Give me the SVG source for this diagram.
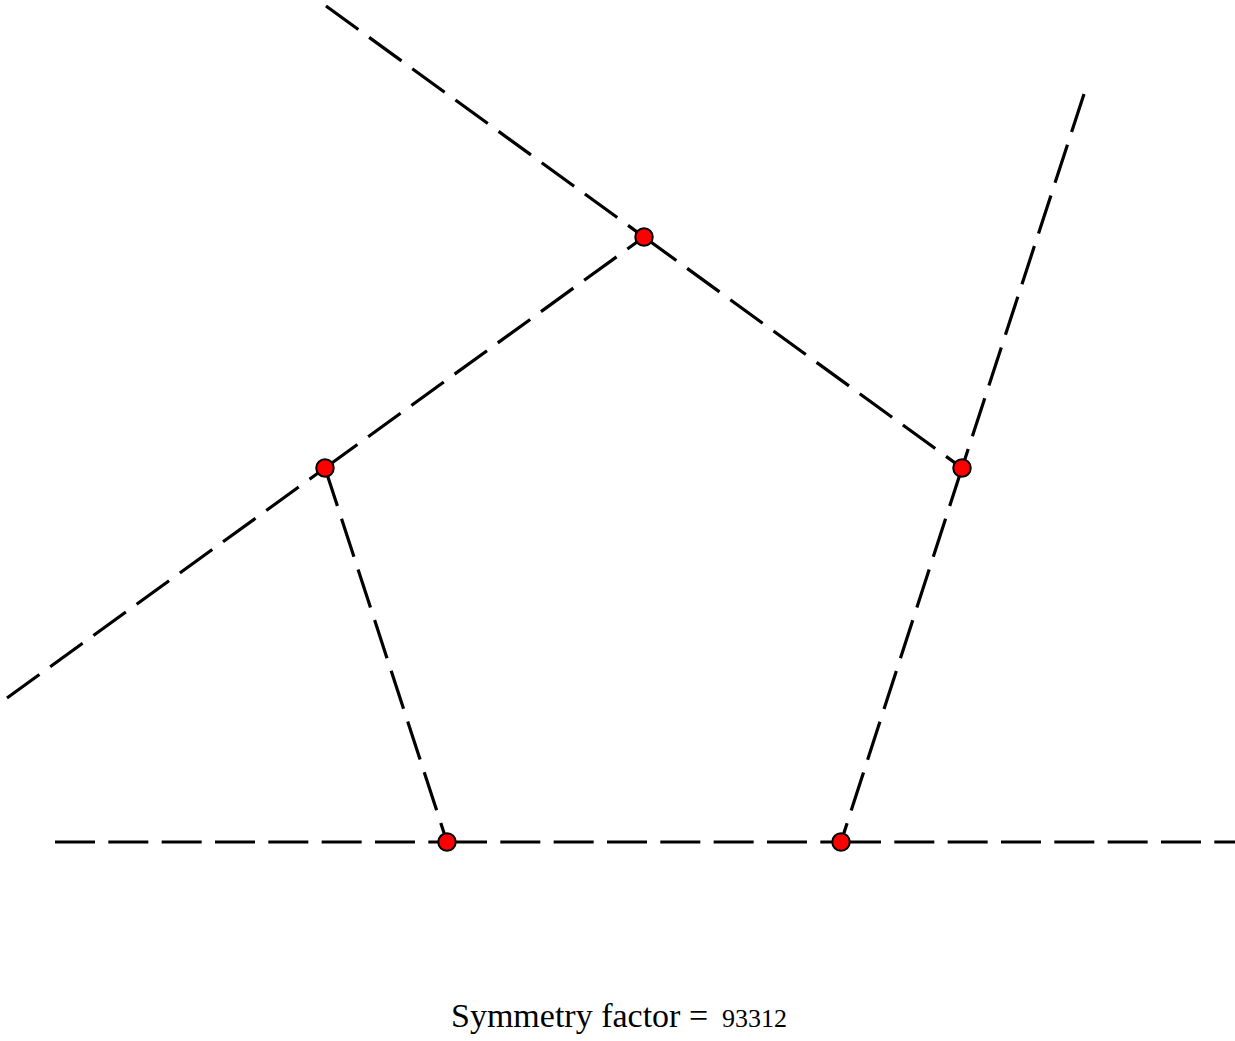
<svg xmlns="http://www.w3.org/2000/svg" width="1235" height="1041" viewBox="0 0 1235 1041">
<style>
.e{stroke:#000;stroke-width:3.2;stroke-dasharray:40 13.33;fill:none}
.n{fill:#f00;stroke:#000;stroke-width:2}
.t{font-family:'Liberation Serif',serif}
</style>
<rect width="1235" height="1041" fill="#fff"/>
<g id="connectors">
<line class="e" x1="326" y1="6" x2="644" y2="237"/>
<line class="e" x1="644" y1="237" x2="962" y2="468"/>
<line class="e" x1="7" y1="698" x2="325" y2="468"/>
<line class="e" x1="325" y1="468" x2="644" y2="237"/>
<line class="e" x1="325" y1="468" x2="447" y2="842"/>
<line class="e" x1="1084" y1="94" x2="962" y2="468"/>
<line class="e" x1="962" y1="468" x2="841" y2="842"/>
<line class="e" x1="55" y1="842" x2="447" y2="842"/>
<line class="e" x1="447" y1="842" x2="841" y2="842"/>
<line class="e" x1="841" y1="842" x2="1235" y2="842"/>
</g>
<g id="v1"><circle class="n" cx="644" cy="237" r="8.75"/></g>
<g id="v2"><circle class="n" cx="325" cy="468" r="8.75"/></g>
<g id="v3"><circle class="n" cx="962" cy="468" r="8.75"/></g>
<g id="v4"><circle class="n" cx="447" cy="842" r="8.75"/></g>
<g id="v5"><circle class="n" cx="841" cy="842" r="8.75"/></g>
<text class="t" x="451" y="1027" font-size="34">Symmetry factor =</text>
<text class="t" x="722" y="1027" font-size="26">93312</text>
</svg>
